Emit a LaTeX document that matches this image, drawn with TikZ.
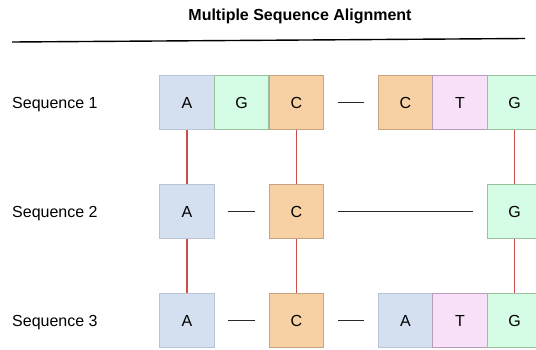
\documentclass[tikz,border=0pt]{standalone}
\usepackage{fontspec}
\setmainfont{Liberation Sans}
\begin{document}
\begin{tikzpicture}[x=1pt,y=-1pt,
  base/.style={rectangle,minimum width=54.5pt,minimum height=54.5pt,inner sep=0pt,line width=1pt,font=\fontsize{16}{19}\selectfont},
  nA/.style={base,fill={rgb,255:red,212;green,223;blue,240},draw={rgb,255:red,184;green,196;blue,214}},
  nG/.style={base,fill={rgb,255:red,213;green,252;blue,229},draw={rgb,255:red,156;green,191;blue,156}},
  nC/.style={base,fill={rgb,255:red,247;green,208;blue,163},draw={rgb,255:red,196;green,164;blue,131}},
  nT/.style={base,fill={rgb,255:red,248;green,224;blue,249},draw={rgb,255:red,185;green,155;blue,188}},
  gap/.style={draw={rgb,255:red,40;green,40;blue,40},line width=1.1pt,shorten <=13.5pt,shorten >=13.5pt},
  match/.style={draw={rgb,255:red,200;green,80;blue,72},line width=1.2pt},
  seqlabel/.style={anchor=base west,inner sep=0pt,font=\fontsize{16}{19}\selectfont}]
\useasboundingbox (0,0) rectangle (536,349);

% heading and rule
\node[font=\bfseries\fontsize{16}{19}\selectfont] (title) at (300,16.5) {Multiple Sequence Alignment};
\coordinate (ruleL) at (12,42);
\coordinate (ruleR) at (525,38.5);
\draw[line width=1.4pt] (ruleL) -- (ruleR);

% row labels
\node[seqlabel] (lab1) at (12,108) {Sequence 1};
\node[seqlabel] (lab2) at (12,217) {Sequence 2};
\node[seqlabel] (lab3) at (12,326) {Sequence 3};

% sequence 1
\node[nA] (s1a) at (187,102.5) {A};
\node[nG] (s1g) at (241.5,102.5) {G};
\node[nC] (s1c) at (296.5,102.5) {C};
\node[nC] (s1c2) at (405.5,102.5) {C};
\node[nT] (s1t) at (460,102.5) {T};
\node[nG] (s1g2) at (514.5,102.5) {G};

% sequence 2
\node[nA] (s2a) at (187,211.5) {A};
\node[nC] (s2c) at (296.5,211.5) {C};
\node[nG] (s2g) at (514.5,211.5) {G};

% sequence 3
\node[nA] (s3a) at (187,320.5) {A};
\node[nC] (s3c) at (296.5,320.5) {C};
\node[nA] (s3a2) at (405.5,320.5) {A};
\node[nT] (s3t) at (460,320.5) {T};
\node[nG] (s3g) at (514.5,320.5) {G};

% gaps
\draw[gap] (s1c.east) -- (s1c2.west);
\draw[gap] (s2a.east) -- (s2c.west);
\draw[gap] (s2c.east) -- (s2g.west);
\draw[gap] (s3a.east) -- (s3c.west);
\draw[gap] (s3c.east) -- (s3a2.west);

% aligned columns
\draw[match] (s1a.south) -- (s2a.north);
\draw[match] (s2a.south) -- (s3a.north);
\draw[match] (s1c.south) -- (s2c.north);
\draw[match] (s2c.south) -- (s3c.north);
\draw[match] (s1g2.south) -- (s2g.north);
\draw[match] (s2g.south) -- (s3g.north);
\end{tikzpicture}
\end{document}
